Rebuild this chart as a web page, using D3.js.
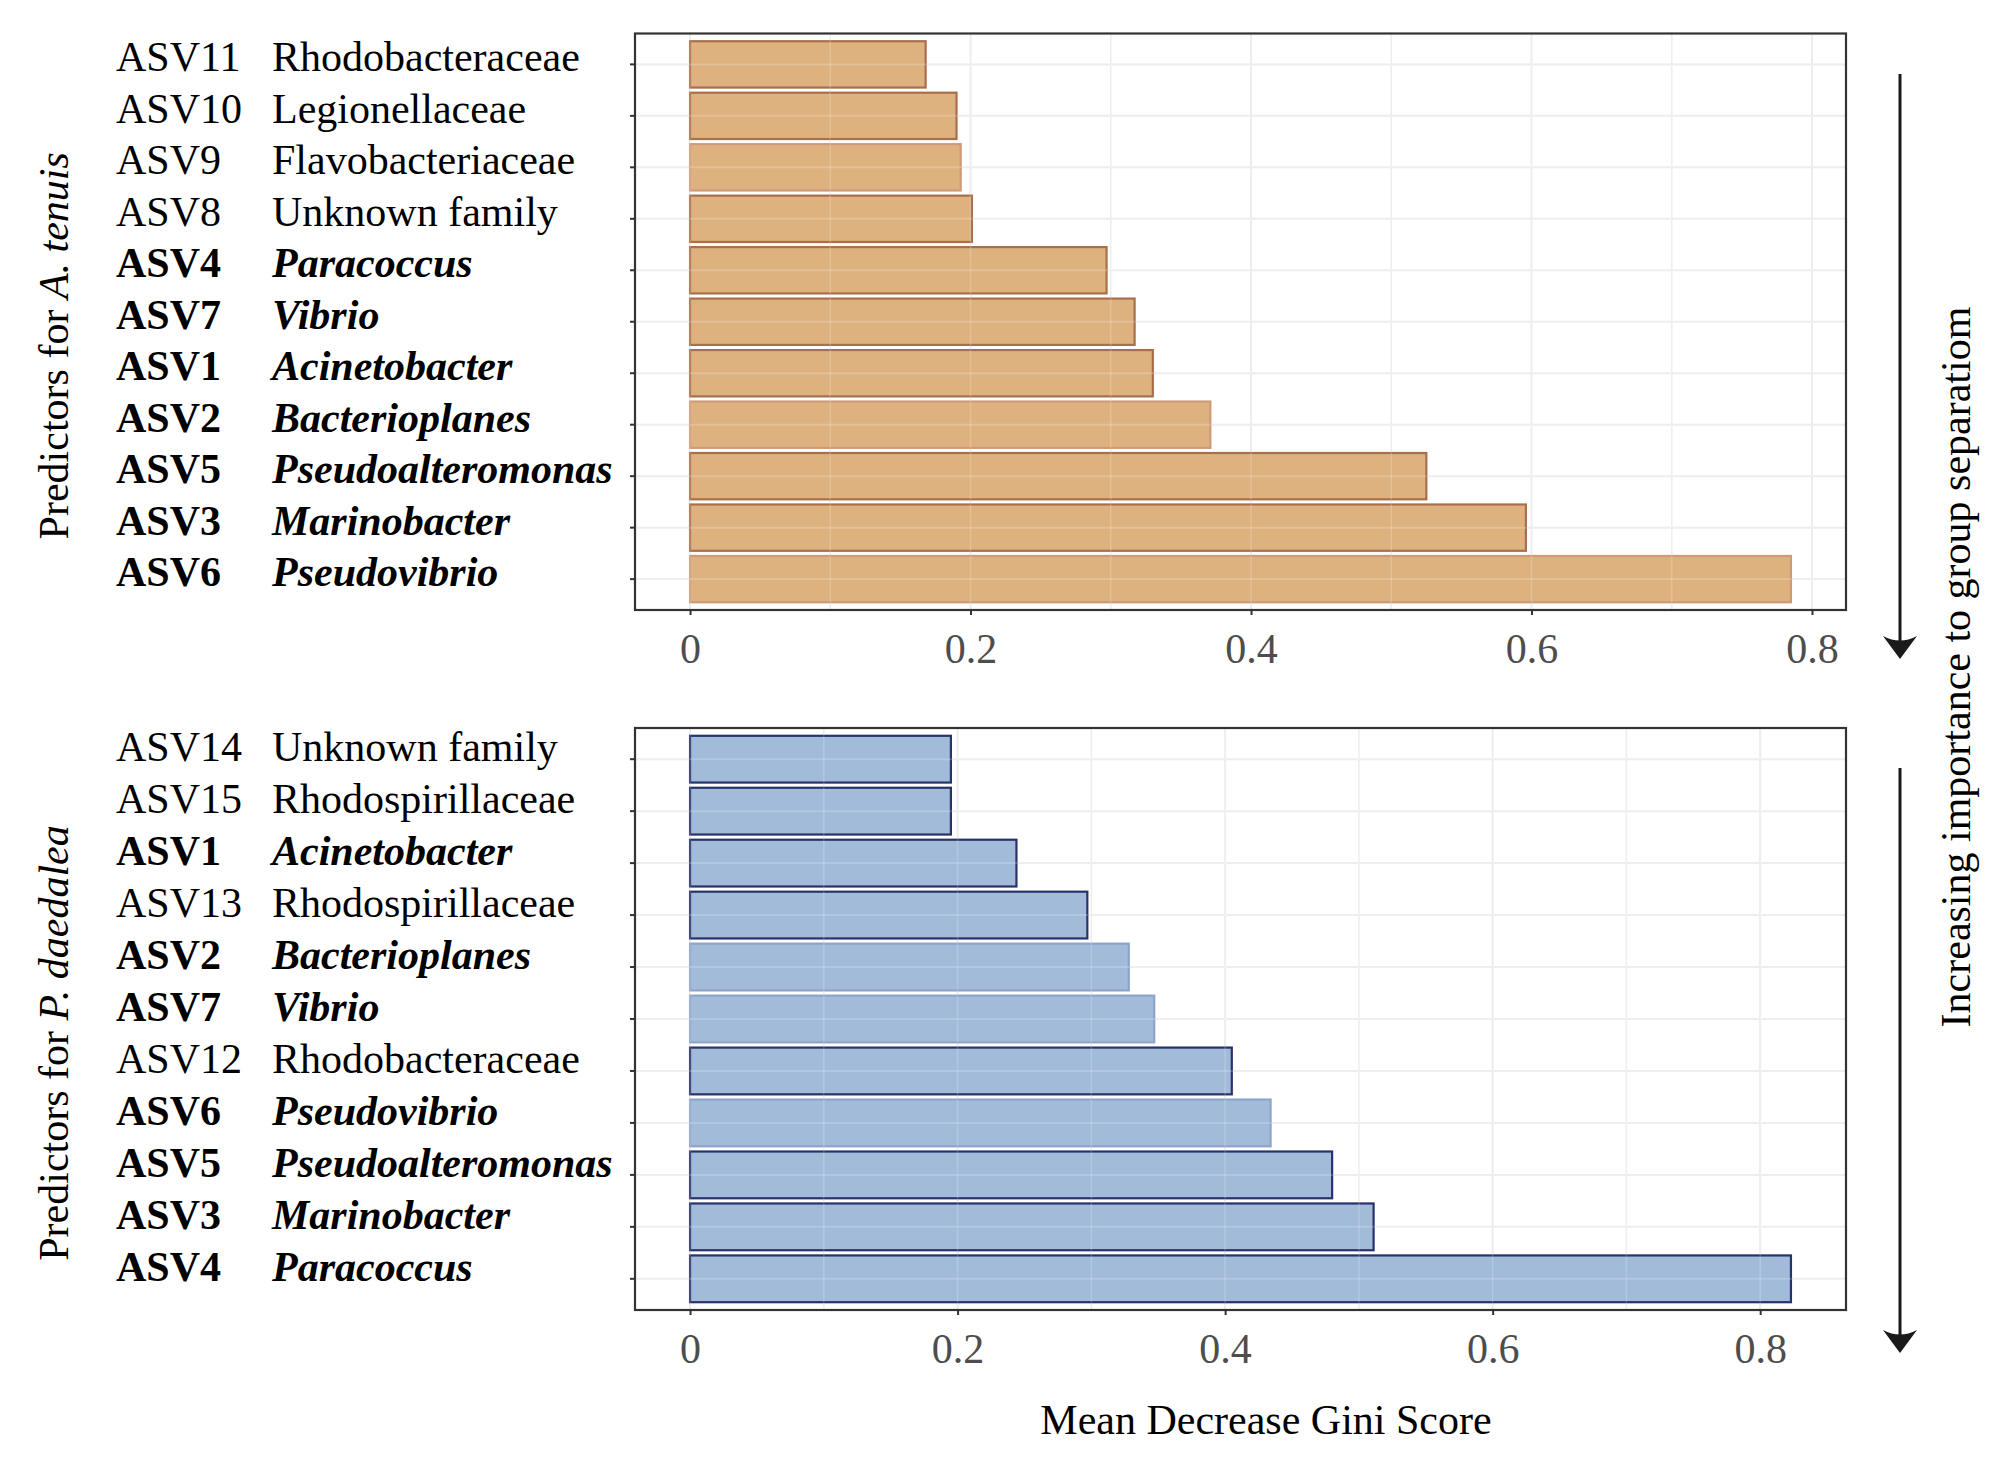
<!DOCTYPE html>
<html lang="en">
<head>
<meta charset="UTF-8">
<title>Predictors - Mean Decrease Gini</title>
<script src="https://d3js.org/d3.v7.min.js"></script>
<style>
  body { margin: 0; background: #fff; }
  svg { display: block; font-family: 'Liberation Serif', 'Times New Roman', serif; }
  .tick-label { fill: #4d4d4d; font-size: 42px; }
  .row-label { fill: #000; font-size: 42px; }
  .title { fill: #000; font-size: 42px; }
</style>
</head>
<body>
<svg id="chart" width="2003" height="1465"></svg>
<script>
// A. tenuis predictors (top to bottom)
const topAsv = ["ASV11", "ASV10", "ASV9", "ASV8", "ASV4", "ASV7", "ASV1", "ASV2", "ASV5", "ASV3", "ASV6"];
const topTaxon = ["Rhodobacteraceae", "Legionellaceae", "Flavobacteriaceae", "Unknown family", "Paracoccus",
  "Vibrio", "Acinetobacter", "Bacterioplanes", "Pseudoalteromonas", "Marinobacter", "Pseudovibrio"];
const topGini = [0.168, 0.190, 0.193, 0.201, 0.297, 0.317, 0.330, 0.371, 0.525, 0.596, 0.785];

// P. daedalea predictors (top to bottom)
const bottomAsv = ["ASV14", "ASV15", "ASV1", "ASV13", "ASV2", "ASV7", "ASV12", "ASV6", "ASV5", "ASV3", "ASV4"];
const bottomTaxon = ["Unknown family", "Rhodospirillaceae", "Acinetobacter", "Rhodospirillaceae", "Bacterioplanes",
  "Vibrio", "Rhodobacteraceae", "Pseudovibrio", "Pseudoalteromonas", "Marinobacter", "Paracoccus"];
const bottomGini = [0.195, 0.195, 0.244, 0.297, 0.328, 0.347, 0.405, 0.434, 0.480, 0.511, 0.823];

// ASVs shared by both corals (shown bold, genus in italics)
const sharedAsv = ["ASV1", "ASV2", "ASV3", "ASV4", "ASV5", "ASV6", "ASV7"];

const xTicks = [0, 0.2, 0.4, 0.6, 0.8];
const xMinor = [0.1, 0.3, 0.5, 0.7];

const svg = d3.select("#chart");
const panelLeft = 635, panelRight = 1846;

function drawPanel(cfg) {
  const rows = cfg.asv.map((a, i) => ({ asv: a, taxon: cfg.taxon[i], value: cfg.gini[i] }));
  const maxV = d3.max(cfg.gini);
  const x = d3.scaleLinear().domain([-0.05 * maxV, 1.05 * maxV]).range([panelLeft, panelRight]);
  const y = d3.scaleBand().domain(cfg.asv).range([cfg.top, cfg.bottom])
    .paddingInner(0.1).paddingOuter(0.15);
  const yc = d => y(d) + y.bandwidth() / 2;

  const g = svg.append("g");

  // grid under bars
  const grid = g.append("g").attr("stroke", "#ebebeb");
  grid.selectAll(".minor").data(xMinor).join("line")
    .attr("x1", d => x(d)).attr("x2", d => x(d))
    .attr("y1", cfg.top).attr("y2", cfg.bottom).attr("stroke-width", 1.5);
  grid.selectAll(".major").data(xTicks).join("line")
    .attr("x1", d => x(d)).attr("x2", d => x(d))
    .attr("y1", cfg.top).attr("y2", cfg.bottom).attr("stroke-width", 2);
  grid.selectAll(".hz").data(cfg.asv).join("line")
    .attr("x1", panelLeft).attr("x2", panelRight)
    .attr("y1", yc).attr("y2", yc).attr("stroke-width", 2);

  // bars
  g.append("g").selectAll("rect").data(rows).join("rect")
    .attr("x", x(0))
    .attr("y", d => y(d.asv))
    .attr("width", d => x(d.value) - x(0))
    .attr("height", y.bandwidth())
    .attr("fill", cfg.fill)
    .attr("stroke", d => cfg.faint.has(d.asv) ? cfg.faintStroke : cfg.stroke)
    .attr("stroke-width", 2.2);

  // grid showing faintly through the bars
  const over = g.append("g").attr("stroke", "#fff").attr("stroke-opacity", 0.18);
  over.selectAll(".v").data(xTicks.concat(xMinor)).join("line")
    .attr("x1", d => x(d)).attr("x2", d => x(d))
    .attr("y1", cfg.top).attr("y2", cfg.bottom).attr("stroke-width", 1.5);
  over.selectAll(".h").data(cfg.asv).join("line")
    .attr("x1", panelLeft).attr("x2", panelRight)
    .attr("y1", yc).attr("y2", yc).attr("stroke-width", 2);

  // border
  g.append("rect")
    .attr("x", panelLeft).attr("y", cfg.top)
    .attr("width", panelRight - panelLeft).attr("height", cfg.bottom - cfg.top)
    .attr("fill", "none").attr("stroke", "#333").attr("stroke-width", 2.2);

  // x axis
  const xa = g.append("g").attr("transform", `translate(0,${cfg.bottom})`)
    .call(d3.axisBottom(x).tickValues(xTicks).tickSize(5).tickPadding(18)
      .tickFormat(d => d === 0 ? "0" : d3.format(".1f")(d)));
  xa.select(".domain").remove();
  xa.selectAll(".tick line").attr("stroke", "#333").attr("stroke-width", 2);
  xa.selectAll(".tick text").attr("class", "tick-label")
    .style("font-family", "'Liberation Serif', serif").style("font-size", "42px").attr("fill", "#4d4d4d");

  // y axis ticks
  const ya = g.append("g").attr("transform", `translate(${panelLeft},0)`)
    .call(d3.axisLeft(y).tickSize(5).tickFormat(""));
  ya.select(".domain").remove();
  ya.selectAll(".tick line").attr("stroke", "#333").attr("stroke-width", 2);

  // row labels, two columns
  const lab = g.append("g").selectAll("g").data(rows).join("g")
    .attr("transform", d => `translate(0,${yc(d.asv) + cfg.labelDy})`);
  lab.append("text").attr("class", "row-label").attr("x", 116)
    .attr("font-weight", d => sharedAsv.includes(d.asv) ? "bold" : "normal")
    .text(d => d.asv);
  lab.append("text").attr("class", "row-label").attr("x", 272)
    .attr("font-weight", d => sharedAsv.includes(d.asv) ? "bold" : "normal")
    .attr("font-style", d => sharedAsv.includes(d.asv) ? "italic" : "normal")
    .text(d => d.taxon);

  // y title
  const t = g.append("text").attr("class", "title")
    .attr("transform", `translate(68,${(cfg.top + cfg.bottom) / 2 + 24}) rotate(-90)`)
    .attr("text-anchor", "middle");
  t.append("tspan").text("Predictors for ");
  t.append("tspan").attr("font-style", "italic").text(cfg.species);
}

drawPanel({
  asv: topAsv, taxon: topTaxon, gini: topGini,
  top: 33.5, bottom: 610, labelDy: 7,
  fill: "#ddb27f", stroke: "#a96f4b", faintStroke: "#cf9a78",
  faint: new Set(["ASV9", "ASV2", "ASV6"]),
  species: "A. tenuis"
});

drawPanel({
  asv: bottomAsv, taxon: bottomTaxon, gini: bottomGini,
  top: 728, bottom: 1310, labelDy: 2,
  fill: "#a2bbd9", stroke: "#28326b", faintStroke: "#8ea4cb",
  faint: new Set(["ASV2", "ASV7", "ASV6"]),
  species: "P. daedalea"
});

// x title
svg.append("text").attr("class", "title")
  .attr("x", 1266).attr("y", 1434).attr("text-anchor", "middle")
  .text("Mean Decrease Gini Score");

// importance arrows
function arrow(x0, y0, y1) {
  svg.append("line").attr("x1", x0).attr("x2", x0).attr("y1", y0).attr("y2", y1 - 10)
    .attr("stroke", "#1a1a1a").attr("stroke-width", 3);
  svg.append("path")
    .attr("d", `M${x0},${y1} L${x0 - 17},${y1 - 23} Q${x0},${y1 - 14} ${x0 + 17},${y1 - 23} Z`)
    .attr("fill", "#1a1a1a");
}
arrow(1900, 74, 659);
arrow(1900, 768, 1353);

svg.append("text").attr("class", "title")
  .attr("transform", "translate(1970,667) rotate(-90)")
  .attr("text-anchor", "middle")
  .text("Increasing importance to group separatiom");
</script>
</body>
</html>
